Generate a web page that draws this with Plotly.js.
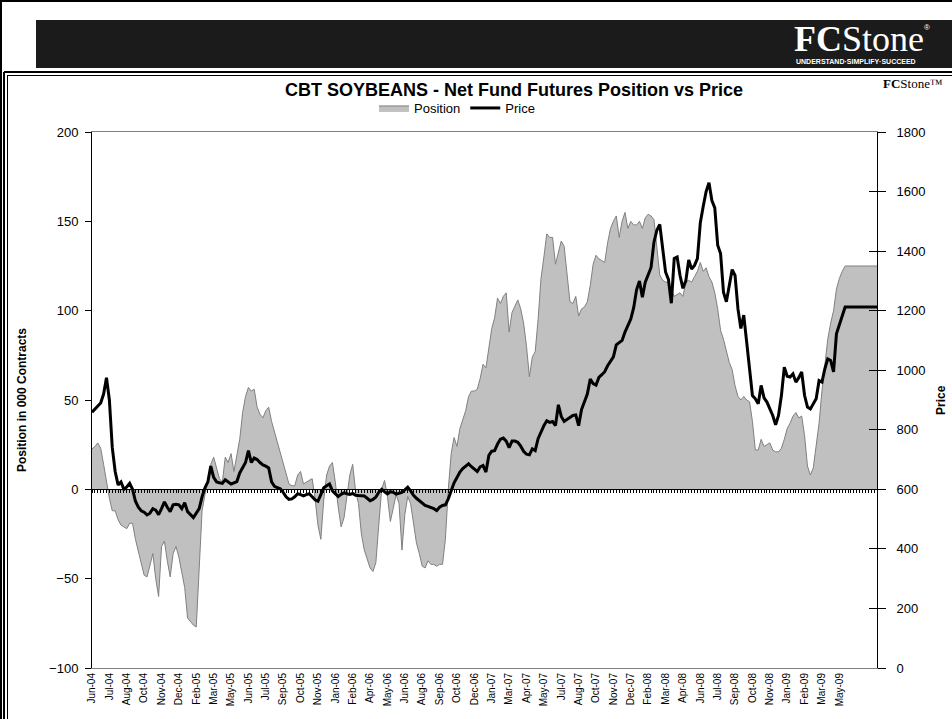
<!DOCTYPE html>
<html>
<head>
<meta charset="utf-8">
<script src="https://cdn.plot.ly/plotly-3.0.1.min.js"></script>
<style>
  html, body { margin: 0; padding: 0; background: #ffffff; }
  #chart { width: 952px; height: 719px; }
</style>
</head>
<body>
<div id="chart"></div>
<script>
// ---------- DATA (weekly, Jun-04 .. Jun-09) ----------
const tickLabels = ["Jun-04","Jul-04","Aug-04","Oct-04","Nov-04","Dec-04","Feb-05","Mar-05","May-05","Jun-05",
  "Jul-05","Sep-05","Oct-05","Nov-05","Jan-06","Feb-06","Apr-06","May-06","Jun-06","Aug-06",
  "Sep-06","Oct-06","Dec-06","Jan-07","Mar-07","Apr-07","May-07","Jul-07","Aug-07","Oct-07",
  "Nov-07","Dec-07","Feb-08","Mar-08","Apr-08","Jun-08","Jul-08","Sep-08","Oct-08","Nov-08",
  "Jan-09","Feb-09","Mar-09","May-09"];
const labelEvery = 6; // one label every 6 weekly categories

const position = [
  22.6,24,26,23,14,4,-5,-12,-12,-17,
  -20,-21,-22,-19,-19,-28,-35,-42,-48,-49,
  -42,-36,-50,-60,-32,-29,-40,-49,-36,-32,
  -38,-46,-55,-72,-74,-76,-77,-48,-12,-3,
  5,14,18,12,6,4,18,15,20,10,
  18,28,43,52,57,55,56,46,42,40,
  44,46,38,32,26,20,15,8,3,2,
  2,8,10,3,4,5,6,-5,-20,-28,
  -6,8,13,15,4,-10,-21,-16,-4,8,
  14,-1,-8,-25,-34,-39,-44,-46,-41,-20,
  0,5,-4,-18,-10,-3,-8,-34,-14,-4,
  -8,-18,-30,-36,-43,-44,-40,-42,-42,-43,
  -42,-42,-28,0,20,29,24,34,39,44,
  52,55,55,56,62,70,68,80,90,96,
  107,104,108,110,88,99,103,106,101,93,
  80,63,74,77,95,118,130,143,141,141,
  126,133,139,136,120,105,104,108,97,101,
  102,105,114,126,131,129,128,127,138,146,
  150,153,141,150,155,146,150,148,148,150,
  146,152,154,153,151,136,120,117,116,116,
  112,108,109,110,108,116,117,116,119,122,
  127,122,124,119,116,110,101,89,84,77,
  71,67,58,52,50,52,50,49,38,22,
  22,28,24,25,26,22,21,21,23,28,
  34,37,41,43,40,41,30,13,8,12,
  26,37,55,70,84,93,100,112,118,122,
  125,125,125,125,125,125,125,125,125,125,
  125,125
];

const price = [
  859,870,881,890,920,975,900,740,660,615,
  625,600,608,620,600,560,540,528,523,514,
  520,535,530,515,535,558,540,525,548,550,
  548,535,555,525,515,505,520,535,575,605,
  625,678,640,625,622,620,632,625,618,622,
  626,655,672,690,730,690,705,700,690,682,
  678,672,625,610,606,602,590,575,566,568,
  575,585,582,578,582,585,575,565,560,585,
  605,612,618,595,585,576,583,588,585,583,
  586,580,579,578,578,570,562,566,574,590,
  600,592,585,592,590,584,586,590,598,607,
  595,580,570,562,552,546,543,540,535,529,
  540,546,548,568,598,622,640,658,670,678,
  686,676,668,660,675,680,658,714,728,730,
  752,768,772,762,740,762,762,758,745,728,
  718,716,736,730,770,795,814,830,825,828,
  814,884,845,828,835,842,848,850,814,868,
  898,920,970,955,950,976,985,995,1015,1030,
  1045,1085,1092,1100,1128,1150,1172,1210,1270,1300,
  1245,1296,1320,1345,1430,1470,1490,1400,1330,1305,
  1225,1375,1380,1318,1275,1300,1370,1340,1352,1375,
  1495,1550,1600,1630,1570,1545,1420,1392,1262,1230,
  1284,1338,1318,1206,1140,1185,1095,1005,915,904,
  887,949,907,893,870,848,817,848,915,1010,
  980,977,988,960,975,994,915,876,870,885,
  904,965,960,1005,1038,1033,994,1122,1150,1178,
  1212,1212,1212,1212,1212,1212,1212,1212,1212,1212,
  1212,1212
];

// ---------- LAYOUT HELPERS ----------
const PL = 92, PR = 877, PT = 132, PB = 668;
const px = X => (X - PL) / (PR - PL);
const py = Y => (PB - Y) / (PB - PT);
const FONT = "Liberation Sans, Arial, sans-serif";
const SERIF = "Liberation Serif, Times New Roman, serif";

const weekIndex = position.map((_, i) => i);
const lastIdx = position.length - 1;
const tickVals = tickLabels.map((_, k) => k * labelEvery);

const traces = [
  {
    x: weekIndex, y: position, name: "Position", type: "scatter", mode: "lines",
    fill: "tozeroy", fillcolor: "#c0c0c0",
    line: { color: "#808080", width: 1 },
    xaxis: "x", yaxis: "y", hoverinfo: "skip"
  },
  {
    x: weekIndex, y: price, name: "Price", type: "scatter", mode: "lines",
    line: { color: "#000000", width: 3 },
    xaxis: "x", yaxis: "y2", hoverinfo: "skip"
  },
  // invisible helpers so the zero-line category axis and the inner tick axis are drawn
  { x: [0], y: [0], xaxis: "x2", yaxis: "y", mode: "markers", marker: { opacity: 0 }, showlegend: false, hoverinfo: "skip" },
  { x: [0], y: [0], xaxis: "x", yaxis: "y3", mode: "markers", marker: { opacity: 0 }, showlegend: false, hoverinfo: "skip" }
];

const layout = {
  width: 952, height: 719,
  margin: { l: PL, r: 952 - PR, t: PT, b: 719 - PB, pad: 0 },
  paper_bgcolor: "#ffffff", plot_bgcolor: "#ffffff",
  font: { family: FONT, size: 13, color: "#000000" },
  showlegend: true,
  title: {
    text: "<b>CBT SOYBEANS - Net Fund Futures Position vs Price</b>",
    font: { family: FONT, size: 18, color: "#000000" },
    x: 514 / 952, xanchor: "center", xref: "container",
    y: 1 - 90 / 719, yanchor: "middle", yref: "container"
  },
  legend: {
    orientation: "h", x: px(457), xanchor: "center", y: py(108), yanchor: "middle",
    font: { family: FONT, size: 13, color: "#000000" },
    bgcolor: "rgba(0,0,0,0)", traceorder: "normal", itemwidth: 30
  },
  xaxis: {
    range: [0, lastIdx], showgrid: false, zeroline: false,
    tickmode: "array", tickvals: tickVals, ticktext: tickLabels,
    tickangle: -90, ticks: "", tickfont: { family: FONT, size: 10, color: "#000000" },
    showline: true, linecolor: "#808080", linewidth: 1, mirror: true
  },
  xaxis2: {
    overlaying: "x", anchor: "free", position: 1 / 3, range: [0, lastIdx],
    showgrid: false, zeroline: false, showticklabels: false,
    tickmode: "linear", tick0: 0, dtick: 1, ticks: "outside", ticklen: 3, tickwidth: 1, tickcolor: "#000000",
    showline: true, linecolor: "#000000", linewidth: 1
  },
  yaxis: {
    range: [-100, 200], dtick: 50, tick0: -100, showgrid: false, zeroline: false,
    ticks: "outside", ticklen: 6, tickcolor: "#000000", ticklabelstandoff: 4,
    showline: true, linecolor: "#000000", linewidth: 1,
    tickfont: { family: FONT, size: 13, color: "#000000" }
  },
  yaxis2: {
    overlaying: "y", side: "right", anchor: "x", range: [0, 1800], dtick: 200, tick0: 0,
    showgrid: false, zeroline: false,
    ticks: "outside", ticklen: 8, tickcolor: "#000000", ticklabelstandoff: 8,
    showline: true, linecolor: "#000000", linewidth: 1,
    tickfont: { family: FONT, size: 13, color: "#000000" }
  },
  yaxis3: {
    overlaying: "y", side: "right", anchor: "x", range: [0, 1800], dtick: 200, tick0: 0,
    showgrid: false, zeroline: false, showticklabels: false, showline: false,
    ticks: "inside", ticklen: 8, tickcolor: "#000000"
  },
  shapes: [
    // page frame
    { type: "line", xref: "paper", yref: "paper", x0: px(0), x1: px(952), y0: py(1), y1: py(1), line: { color: "#000000", width: 2 } },
    { type: "line", xref: "paper", yref: "paper", x0: px(1), x1: px(1), y0: py(0), y1: py(719), line: { color: "#000000", width: 2 } },
    // black banner
    { type: "rect", xref: "paper", yref: "paper", x0: px(36), x1: px(952), y0: py(20), y1: py(68), fillcolor: "#1b1b1b", line: { width: 0 } },
    // double frame around chart
    { type: "line", xref: "paper", yref: "paper", x0: px(4), x1: px(952), y0: py(72), y1: py(72), line: { color: "#000000", width: 2 } },
    { type: "line", xref: "paper", yref: "paper", x0: px(7), x1: px(952), y0: py(75.5), y1: py(75.5), line: { color: "#000000", width: 1 } },
    { type: "line", xref: "paper", yref: "paper", x0: px(4), x1: px(4), y0: py(72), y1: py(719), line: { color: "#000000", width: 2 } },
    { type: "line", xref: "paper", yref: "paper", x0: px(7.5), x1: px(7.5), y0: py(75.5), y1: py(719), line: { color: "#000000", width: 1 } }
  ],
  annotations: [
    { text: "<b>Position in 000 Contracts</b>", textangle: -90, xref: "paper", yref: "paper",
      x: px(22), y: py(400), xanchor: "center", yanchor: "middle", showarrow: false,
      font: { family: FONT, size: 12, color: "#000000" } },
    { text: "<b>Price</b>", textangle: -90, xref: "paper", yref: "paper",
      x: px(941), y: py(400), xanchor: "center", yanchor: "middle", showarrow: false,
      font: { family: FONT, size: 12, color: "#000000" } },
    // banner logo
    { text: "<b>FC</b>Stone", xref: "paper", yref: "paper",
      x: px(792), y: py(39), xanchor: "left", yanchor: "middle", showarrow: false,
      font: { family: SERIF, size: 36, color: "#ffffff" } },
    { text: "®", xref: "paper", yref: "paper",
      x: px(922), y: py(27), xanchor: "left", yanchor: "middle", showarrow: false,
      font: { family: FONT, size: 8, color: "#ffffff" } },
    { text: "<b>UNDERSTAND·SIMPLIFY·SUCCEED</b>", xref: "paper", yref: "paper",
      x: px(794), y: py(61), xanchor: "left", yanchor: "middle", showarrow: false,
      font: { family: FONT, size: 7, color: "#ffffff" } },
    // small logo at top right of chart
    { text: "<b>FC</b>Stone™", xref: "paper", yref: "paper",
      x: px(881), y: py(84), xanchor: "left", yanchor: "middle", showarrow: false,
      font: { family: SERIF, size: 13, color: "#000000" } }
  ]
};

Plotly.newPlot("chart", traces, layout, { staticPlot: true, displayModeBar: false });
</script>
</body>
</html>
